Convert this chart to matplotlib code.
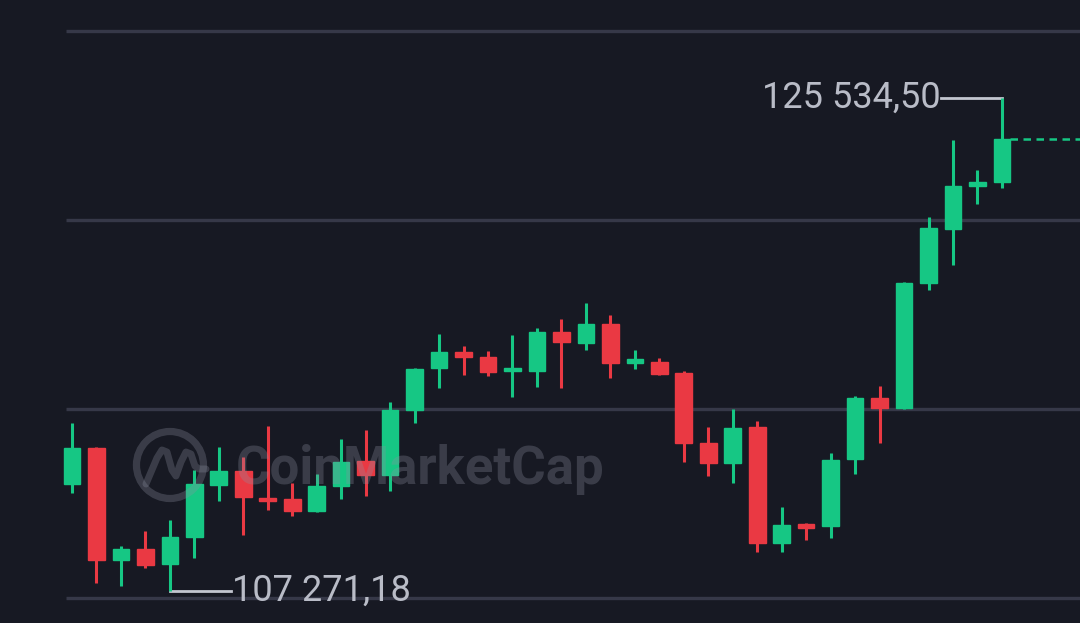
import numpy as np
import matplotlib.pyplot as plt
from matplotlib.patches import Ellipse, Rectangle

# OHLC (daily candles)
opens = [111222, 112556, 108407, 108815, 108259, 109259, 111185, 111704, 110704, 110667,
         110222, 111148, 112074, 111556, 113963, 115519, 116111, 115926, 115407, 115407,
         116852, 116444, 117148, 115704, 115741, 115333, 112741, 112000, 113333, 109037,
         109741, 109667, 112148, 114407, 114037, 118667, 120667, 122259, 122407]
closes = [112556, 108407, 108815, 108222, 109259, 111222, 111704, 110741, 110593, 110222,
          111148, 112037, 111556, 113963, 115481, 116111, 115926, 115370, 115519, 116852,
          116481, 117148, 115704, 115852, 115296, 112741, 112000, 113296, 109037, 109704,
          109593, 112111, 114407, 114037, 118667, 120704, 122259, 122407, 124000]
highs = [113481, 112593, 108926, 109481, 109889, 111741, 112593, 112222, 113370, 111259,
         111593, 112889, 113222, 114259, 115518, 116778, 116333, 116148, 116741, 117000,
         117333, 117926, 117481, 116185, 115889, 115407, 113333, 114000, 113556, 110370,
         109778, 112370, 114481, 114852, 118704, 121111, 123963, 122852, 125534.50]
lows = [110889, 107556, 107444, 108111, 107271.18, 108481, 110593, 109333, 110259, 110037,
        110200, 110667, 110778, 110963, 113481, 114778, 115259, 115222, 114444, 114815,
        114778, 116185, 115148, 115481, 115259, 112037, 111519, 111259, 108704, 108704,
        109148, 109222, 111593, 112741, 114000, 118407, 119333, 121593, 122185]
grid_levels = [107000, 114000, 121000, 128000]
max_label = "125 534,50"
min_label = "107 271,18"

bg = '#171923'
green = '#16c784'
red = '#ea3943'
wm = '#8c90a0'

fig = plt.figure(figsize=(10.8, 6.23), dpi=100, facecolor=bg)
ax = fig.add_axes([0, 0, 1, 1])
ax.set_facecolor(bg)
ax.set_xlim(-2.94, 41.19)
ax.set_ylim(106074, 129148)
ax.axis('off')

# grid
ax.hlines(grid_levels, -0.25, 41.19, color='#363848', lw=2.4, zorder=1)

# candles
w = 0.68
for i in range(len(opens)):
    o, c, h, l = opens[i], closes[i], highs[i], lows[i]
    col = green if c >= o else red
    ax.vlines(i, l, h, color=col, lw=2.2, zorder=3)
    bot = min(o, c)
    hgt = max(abs(c - o), 110)
    ax.add_patch(Rectangle((i - w / 2, bot), w, hgt, color=col, zorder=4))

n = len(opens) - 1
# last price dashed line
ax.hlines(closes[-1], n + w / 2, 41.19, color=green, lw=1.8, linestyles=(0, (3, 2.2)), zorder=3)

# watermark (semi transparent, drawn over the candles)
def px(x, y):
    return (x - 72) / 24.47, 107000 + (598 - y) * 37.037

cx, cy = px(170, 465)
ax.add_patch(Ellipse((cx, cy), 67 / 24.47, 67 * 37.037, fill=False,
                     ec=wm, lw=5.2, alpha=0.3, zorder=5))
mpts = [px(x, y) for x, y in [(146, 484), (157, 458), (162, 450), (167, 452), (172, 470),
                              (176, 476), (181, 462), (186, 452), (191, 454), (195, 466),
                              (199, 469), (206, 469)]]
ax.plot([p[0] for p in mpts], [p[1] for p in mpts], color=wm, lw=5, alpha=0.3,
        solid_joinstyle='round', solid_capstyle='round', zorder=5)
tx, ty = px(236, 470)
ax.text(tx, ty, 'CoinMarketCap', color=wm, alpha=0.3, fontsize=38,
        fontweight='bold', family=['Roboto', 'DejaVu Sans'], va='center', ha='left', zorder=5)

# max / min labels
imax = int(np.argmax(highs))
imin = int(np.argmin(lows))
ax.plot([35.5, imax], [highs[imax], highs[imax]], color='#c3c6d0', lw=2, zorder=2)
ax.text(35.5, highs[imax], max_label, color='#b9bcc7', fontsize=26,
        family=['Roboto', 'DejaVu Sans'], ha='right', va='center')
ax.plot([imin, 6.5], [lows[imin], lows[imin]], color='#c3c6d0', lw=2, zorder=2)
ax.text(6.55, lows[imin], min_label, color='#b9bcc7', fontsize=26,
        family=['Roboto', 'DejaVu Sans'], ha='left', va='center')

plt.savefig('out.png', facecolor=bg)
